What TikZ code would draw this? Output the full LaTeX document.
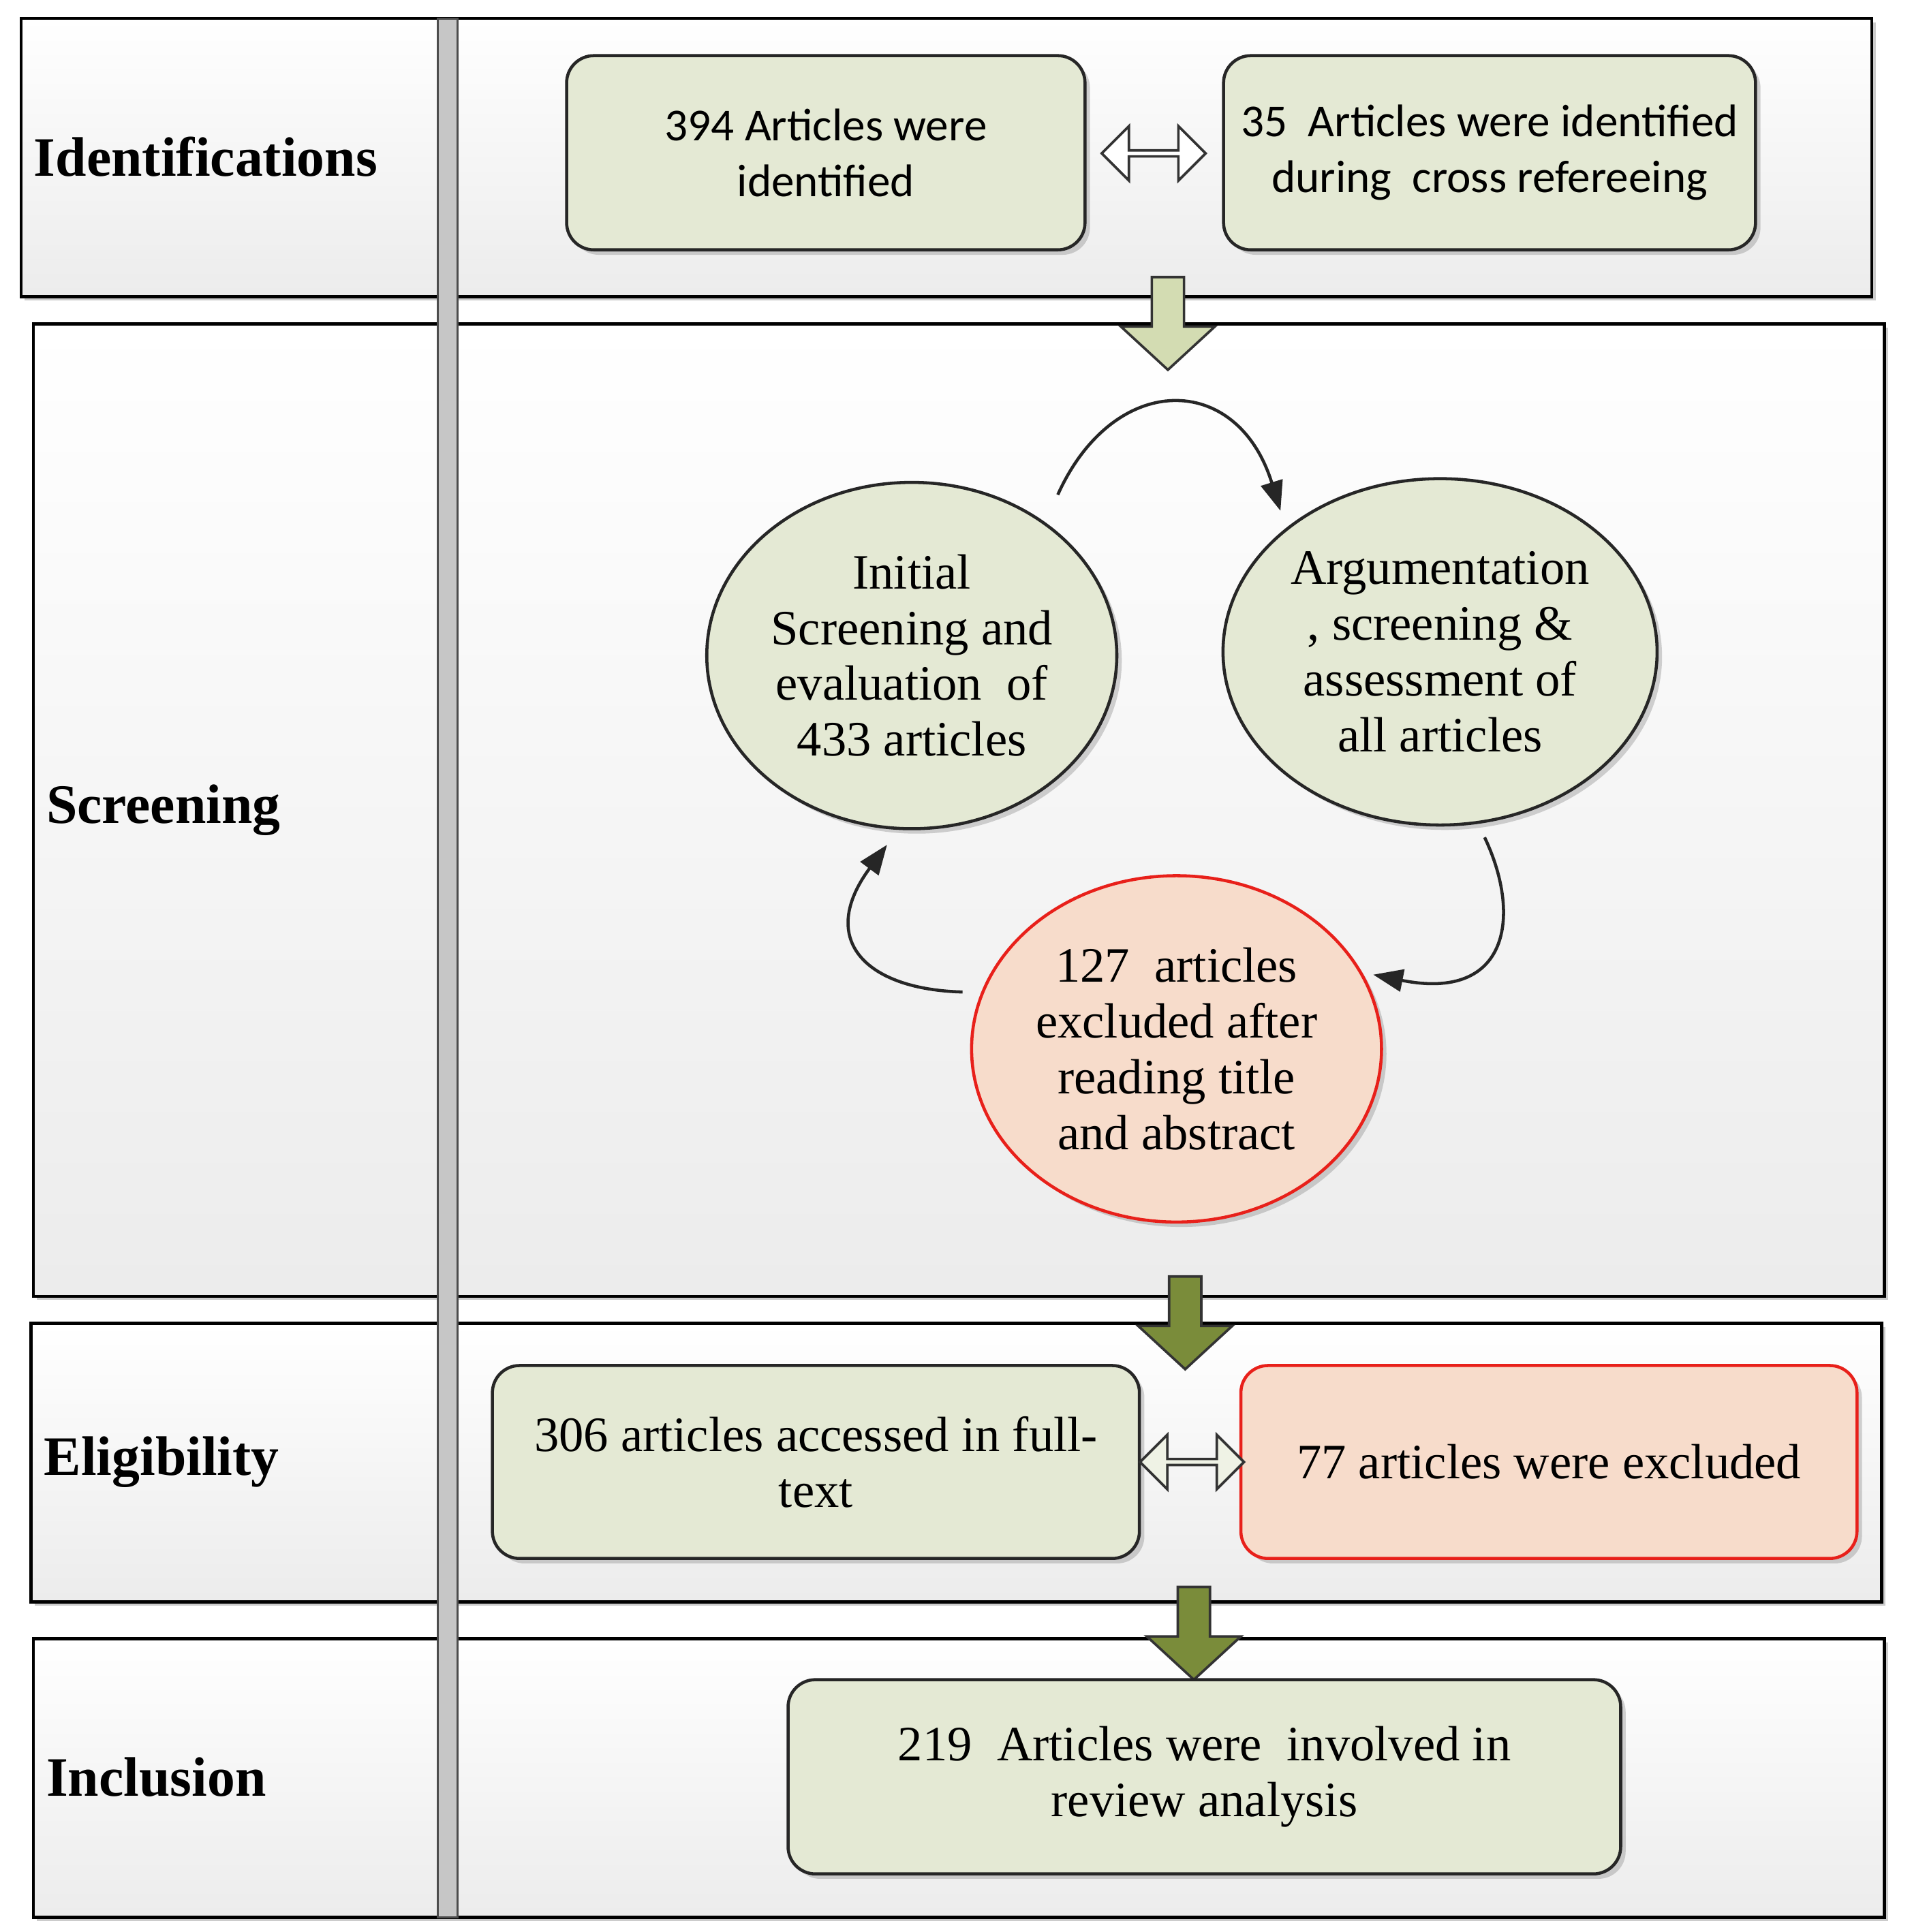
\documentclass[tikz,border=0pt]{standalone}
\usepackage{fontspec}
\setmainfont{Liberation Serif}
\newfontfamily\calib{Carlito}
\usetikzlibrary{shapes.arrows,shapes.geometric,shadows,arrows.meta}
\definecolor{gfill}{HTML}{E4E9D4}
\definecolor{rfill}{HTML}{F7DCCB}
\definecolor{rline}{HTML}{E8201A}
\definecolor{olive}{HTML}{7A8C3A}
\definecolor{lolive}{HTML}{D3DCB2}
\begin{document}
\begin{tikzpicture}[x=1pt,y=-1pt,
 band/.style={draw=black,line width=2.5pt,top color=white,bottom color=gray!15,drop shadow={shadow xshift=3pt,shadow yshift=-3pt,opacity=.4}},
 lab/.style={anchor=west,font=\fontsize{45}{52}\selectfont\bfseries},
 gbox/.style={draw=black!85,line width=2.5pt,rounded corners=22pt,fill=gfill,align=center,font=\fontsize{40}{45}\selectfont,drop shadow={shadow xshift=4pt,shadow yshift=-4pt,opacity=.35}},
 rbox/.style={gbox,draw=rline,fill=rfill},
 ell/.style={ellipse,draw=black!85,line width=2.5pt,fill=gfill,align=center,font=\fontsize{40}{45}\selectfont,drop shadow={shadow xshift=4pt,shadow yshift=-4pt,opacity=.35}},
 dbl/.style={double arrow,draw=black!80,line width=2pt,fill=white,minimum width=44pt,double arrow head extend=8pt,minimum height=84pt,inner sep=0pt},
 cur/.style={line width=2.5pt,draw=black!85,-{Triangle[length=24pt,width=18pt]}},
 darr/.style={draw=black!80,line width=2pt,line join=miter}]
\def\downarrow#1#2#3{\draw[darr,fill=#3] (#1-13,#2) -- (#1+13,#2) -- (#1+13,#2+40) -- (#1+38,#2+40) -- (#1,#2+75) -- (#1-38,#2+40) -- (#1-13,#2+40) -- cycle;}
\useasboundingbox (0,0) rectangle (1545,1562);
\fill[white] (0,0) rectangle (1545,1562);
\draw[band] (17,15) rectangle (1513,240);
\draw[band] (27,262) rectangle (1523,1048);
\draw[band] (25,1070) rectangle (1521,1295);
\draw[band] (27,1325) rectangle (1523,1550);
\fill[gray!45,draw=black!70,line width=1.5pt] (354,15) rectangle (370,1550);
\node[lab] (l1) at (24,127) {Identifications};
\node[lab] (l2) at (34,655) {Screening};
\node[lab] (l3) at (32,1182) {Eligibility};
\node[lab] (l4) at (34,1437) {Inclusion};
\node[gbox,minimum width=419pt,minimum height=157pt,font=\fontsize{37}{45}\selectfont\calib] (a) at (667.5,123.5) {394 Articles were\\identified};
\node[gbox,minimum width=430pt,minimum height=157pt,font=\fontsize{37}{45}\selectfont\calib] (b) at (1204,123.5) {35\ \ Articles were identified\\during\ \ cross refereeing};
\node[dbl] (d1) at (932.5,124) {};
\downarrow{944}{224}{lolive}
\node[ell,minimum width=322pt,minimum height=280pt] (e1) at (737,530) {Initial\\Screening and\\evaluation\ \ of\\433 articles};
\node[ell,minimum width=322pt,minimum height=280pt] (e2) at (1164,527) {Argumentation\\, screening \&\\assessment of\\all articles};
\node[ell,draw=rline,fill=rfill,minimum width=322pt,minimum height=280pt] (e3) at (951,848) {127\ \ articles\\excluded after\\reading title\\and abstract};
\coordinate (c1) at (855,400); \coordinate (c2) at (1035,413);
\coordinate (c3) at (1200,677); \coordinate (c4) at (1110,788);
\coordinate (c5) at (778,802); \coordinate (c6) at (717,683);
\draw[cur] (c1) .. controls (900,300) and (1000,300) .. (c2);
\draw[cur] (c3) .. controls (1230,740) and (1220,810) .. (c4);
\draw[cur] (c5) .. controls (700,800) and (660,760) .. (c6);
\downarrow{958}{1032}{olive}
\node[gbox,minimum width=523pt,minimum height=156pt] (f) at (659.5,1182) {306 articles accessed in full-\\text};
\node[rbox,minimum width=498pt,minimum height=156pt] (g) at (1252,1182) {77 articles were excluded};
\node[dbl,minimum height=84pt,fill=gfill!60] (d2) at (963.5,1182) {};
\downarrow{965}{1283}{olive}
\node[gbox,minimum width=673pt,minimum height=157pt] (h) at (973.5,1436.5) {219\ \ Articles were\ \ involved in\\review analysis};
\end{tikzpicture}
\end{document}
